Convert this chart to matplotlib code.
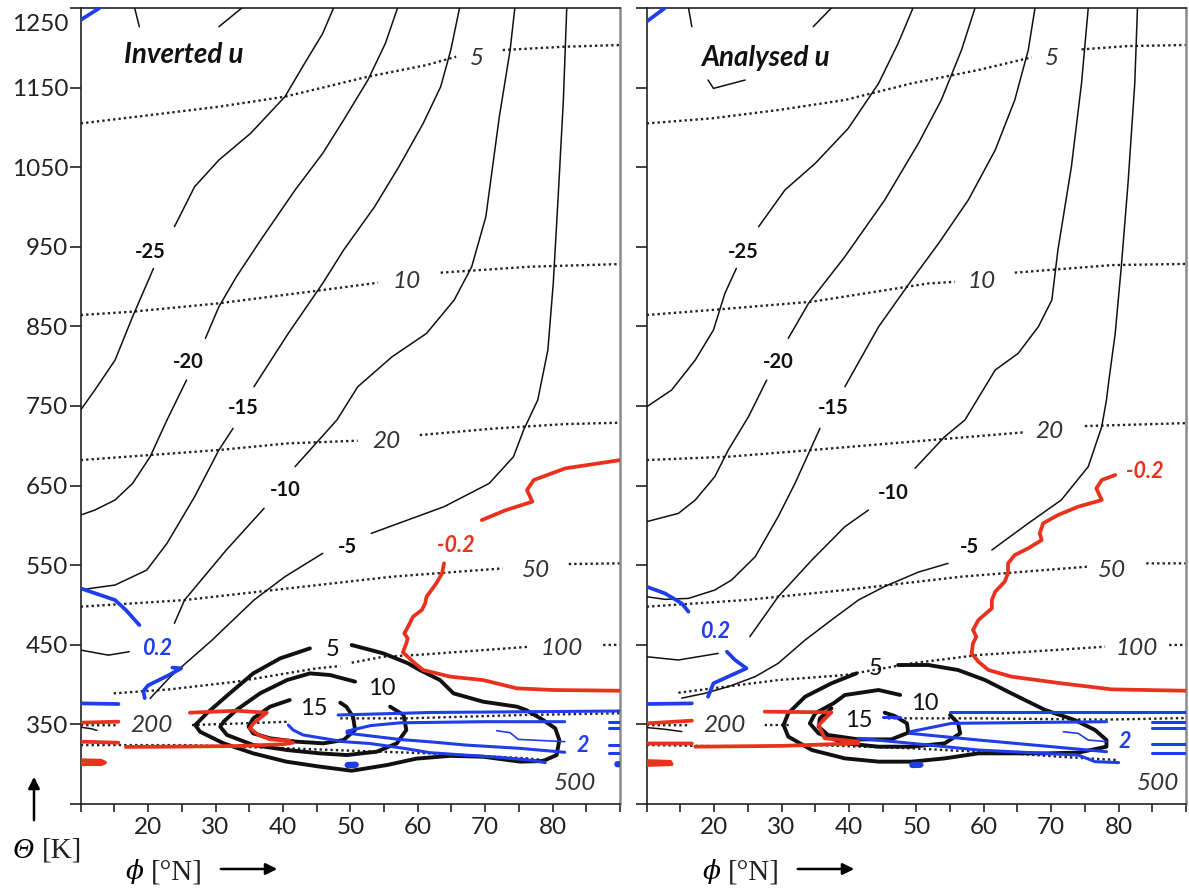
import numpy as np
import matplotlib
matplotlib.use('Agg')
import matplotlib.pyplot as plt

plt.rcParams['font.family'] = ['Lato', 'DejaVu Sans']

RED = '#e8321e'
BLUE = '#1f3de8'
GAP = (np.nan, np.nan)

# all curves are (latitude [deg N], theta [K])

# ---------------- left panel: inverted u ----------------
inv_u_m30 = [(18.0, 1250), (18.7, 1226.5), GAP, (30.5, 1226.5), (33.9, 1250)]
inv_u_m25 = [(47.5, 1250), (45.9, 1218), (42.9, 1176), (40.3, 1138.6), (35.2, 1092.5), (30.5, 1059),
             (26.9, 1025.5), (23.9, 975.2), GAP, (20.8, 922.9), (17.7, 862.2), (15.1, 807.7),
             (12.1, 770.1), (10, 745)]
inv_u_m20 = [(57.0, 1250), (55.2, 1205.6), (52.6, 1159.5), (49.0, 1109.2), (45.9, 1067.4), (41.8, 1021.3),
             (36.7, 958.5), (33.1, 912.4), (30.5, 874.7), (28.5, 835), GAP, (25.7, 782.6), (22.8, 732.4),
             (20.3, 686.3), (17.7, 652.8), (15.1, 631.9), (12.1, 619.3), (10, 613)]
inv_u_m15 = [(66.2, 1250), (64.9, 1197.2), (63.4, 1151.1), (60.8, 1105), (57.2, 1050.6), (53.6, 1000.4),
             (49.0, 945.9), (45.9, 904.1), (40.8, 841.3), (35.7, 774.2), GAP, (32.6, 721.9), (30.5, 694.7),
             (26.9, 636.1), (22.8, 577.4), (19.8, 543.9), (15.1, 525.1), (11.5, 520.9), (10, 518.8)]
inv_u_m10 = [(74.4, 1250), (73.7, 1197.2), (72.1, 1113.4), (70.1, 987.8), (68.0, 924.9), (65.4, 883.1),
             (61.3, 841.2), (56.2, 811.9), (51.1, 774.2), (48.0, 732.4), (41.8, 673.8), GAP, (37.2, 621.4),
             (31.6, 569.1), (25.4, 506.2), (23.9, 477), GAP, (17.2, 441.3), (14.1, 437), (10, 443.4)]
inv_u_m5 = [(82.1, 1250), (81.6, 1134.4), (80.8, 1008.7), (80.1, 904), (79.3, 820.3), (77.8, 757.5),
            (75.7, 719.8), (74.2, 686.3), (70.6, 652.8), (63.9, 623.5), (53.1, 590), GAP, (45.9, 564.9),
            (40.3, 535.6), (35.7, 506.2), (29.5, 456), (23.3, 409.9), (20.3, 382.7)]
inv_u_misc = [(10, 346.5), (11.6, 344.5), (12.4, 342.5)]
inv_u_5 = [(44.0, 445.5), (39.6, 433), (35.6, 414.1), (32.1, 389), (28.7, 363.9), (27.0, 349.2),
           (27.7, 340.8), (31.2, 326.2), (35.6, 313.6), (40.5, 303.2), (45.5, 296.9), (50.2, 291.8),
           (55.4, 298.9), (59.8, 307), (64.8, 310.5), (69.7, 309.4), (75.2, 303.2), (78.6, 304),
           (80.6, 311.5), (81.0, 330.4), (80.4, 345), (78.6, 355.5), (76.1, 368), (74.7, 372.3),
           (69.7, 378.5), (65.3, 389), (63.3, 405.7), (60.3, 418.3), (58.5, 427), (54.9, 439.2), (50.2, 449.7)]
inv_u_10 = [(50.7, 403.7), (47.0, 412), (44.0, 414.1), (40.6, 405.7), (36.6, 389), (33.1, 368.1),
            (31.2, 353.4), (30.7, 347.1), (31.7, 336.7), (35.6, 324.1), (40.6, 317.8), (45.5, 313.6),
            (49.5, 311.5), (53.9, 315.7), (56.9, 326.2), (58.3, 343), (57.9, 361.8), (55.9, 372.3)]
inv_u_15 = [(41.0, 380.6), (38.1, 372.3), (35.6, 357.6), (34.9, 347.1), (35.6, 338.7), (38.1, 332.5),
            (42.0, 328.3), (46.0, 326.2), (49.0, 330.4), (50.7, 343), (50.4, 359.7), (49.4, 372.3), (48.5, 377.3)]

inv_p5 = [(10, 1105), (20.3, 1115.5), (30.5, 1126), (40.3, 1138.6), (52.6, 1163.7), (61.3, 1178.3),
          (65.7, 1188.8), GAP, (72.6, 1197.2), (81.9, 1201.4), (90, 1203.5)]
inv_p10 = [(10, 864.3), (17.7, 868.5), (30.5, 879), (45.9, 895.7), (54.1, 904.9), GAP, (63.4, 917.5),
           (76.7, 925), (90, 928.3)]
inv_p20 = [(10, 682.1), (20.3, 688.4), (30.5, 694.7), (40.8, 703.1), (51.1, 706.4), GAP, (60.3, 713.5),
           (71.6, 721.9), (81.9, 727.3), (90, 729)]
inv_p50 = [(10, 497.9), (25.4, 506.2), (40.8, 520.9), (56.2, 535.6), (72.6, 546), GAP, (82.4, 551.5), (90, 552.3)]
inv_p100 = [(14.9, 389), (23.2, 394), (33.1, 403.7), (45.0, 420.4), (48.5, 423.3), GAP, (50.2, 427.5),
            (54.9, 435), (59.8, 437.2), (76.6, 447.6), GAP, (87.5, 449.7), (90, 450)]
inv_p200 = [(10, 349), (15.5, 349), GAP, (26.5, 349.2), (33, 351), (41.0, 353.4), GAP, (48.5, 357.6),
            (58.4, 357.6), (75.6, 361.8), (90, 364)]
inv_p300 = [(10, 324), (26, 324), (40.6, 320), (50, 317), (61.8, 313.6), (70, 310), (76, 307.5), (79, 305)]

inv_red_top = [(90, 682), (81.9, 671.7), (77.2, 657), (76.2, 644.4), (77.0, 629.8), (73.1, 619.3), (69.5, 606.7)]
inv_red_mid = [(63.9, 552.3), (63.6, 539.7), (62.9, 529.3), (62.4, 523), (61.3, 510.4), (61.1, 502.1),
               (60.6, 493.7), (59.3, 485.3), (58.8, 476.9), (58.3, 468.6), (58.0, 464.4), (58.5, 458.1),
               (58.3, 451.8), (57.8, 440.5), (59.3, 428.8), (60.8, 418.3), (64.8, 410), (69.7, 405.7),
               (74.7, 395.3), (80.1, 393.2), (90, 392.3)]
inv_red_chev = [(26.2, 364.7), (33.1, 367.2), (37.6, 364.7), (35.6, 351.3), (35.1, 345), (36.4, 336.7),
                (38.1, 331.2), (41.0, 329.5)]
inv_red_long = [(16.7, 321.7), (23.2, 322), (33, 322.8), (40, 325), (41.5, 327)]
inv_red_short = [(10, 352.2), (15.6, 353.4), GAP, (10, 328.3), (15.6, 327)]
inv_red_blob = [(10, 305), (13, 304.5), (13.6, 302), (13, 300), (10, 300)]

inv_blue_corner = [(10, 1235), (12.8, 1250)]
inv_blue_ul = [(10, 520.9), (15.1, 506.2), (16.7, 493.7), (18.7, 474.8)]
inv_blue_hook = [(19.5, 383), (19.3, 392), (20.0, 399), (23.1, 412), (24.9, 420.4), (23.6, 421.3)]
inv_blue_stub = [(10, 376.4), (15.6, 375.6)]
inv_blue_a = [(48.2, 361.8), (62, 365), (90, 366.8)]
inv_blue_b = [(49.5, 341.5), (53, 348.5), (57.4, 352), (70, 353.4), (81.8, 353.4)]
inv_blue_c = [(49.5, 339), (53, 335.5), (57.4, 331), (62, 328), (67.2, 324), (75, 320), (81.8, 315)]
inv_blue_d = [(40.8, 349.2), (41.5, 343), (43, 336.7), (46, 332.5), (49, 328.3), (52.9, 326),
              (57.9, 320), (61.8, 314.5), (66, 312), (72.2, 308.6), (76.6, 305.2), (78.9, 302)]
inv_blue_thin = [(71.7, 342.1), (73.7, 339.6), (74.9, 331.2), (81.8, 328.3)]
inv_blue_stubs = [(88.3, 353.4), (90, 353.4), GAP, (88.3, 345), (90, 345), GAP, (88.3, 324.1), (90, 324.1),
                  GAP, (88.3, 313.6), (90, 313.6)]
inv_blue_dots = [(49.6, 299), (50.8, 299.3), GAP, (89.6, 300), (90, 300)]

inv_u_labels = [('-25', 20.3, 943.8), ('-20', 25.9, 805.7), ('-15', 34.1, 747), ('-10', 40.3, 644.4), ('-5', 49.5, 573.3)]
inv_u_thick_labels = [('5', 47.3, 444.3), ('10', 54.6, 395.3), ('15', 44.6, 370.2)]
inv_p_labels = [('5', 68.8, 1186.7), ('10', 58.3, 906.2), ('20', 55.4, 705.2), ('50', 77.5, 543.9),
                ('100', 81.4, 445.5), ('200', 20.5, 349.2), ('500', 83.4, 275.9)]
inv_red_labels = [('-0.2', 65.7, 575.3)]
inv_blue_labels = [('0.2', 21.4, 445.5), ('2', 84.5, 324.1)]

# ---------------- right panel: analysed u ----------------
ana_u_m30 = [(16.2, 1250), (16.7, 1226.5), GAP, (34.7, 1226.5), (37.4, 1250), GAP,
             (19.1, 1159.5), (19.9, 1149), (24.6, 1159.5)]
ana_u_m25 = [(49.5, 1250), (47.3, 1205.6), (44.4, 1155.3), (39.9, 1098.8), (35.0, 1054.8), (30.5, 1021.3),
             (26.6, 975.2), GAP, (23.3, 922.9), (21.6, 891.5), (19.9, 845.4), (17.2, 807.7), (13.7, 770.1), (10, 749)]
ana_u_m20 = [(58.7, 1250), (56.7, 1197.2), (53.7, 1134.4), (50.3, 1079.9), (45.3, 1008.7), (39.4, 937.6),
             (34.0, 878.9), (31.0, 835), GAP, (27.8, 782.6), (25.1, 736.6), (22.1, 694.7), (20.1, 661.2),
             (17.2, 631.9), (14.7, 615.1), (10, 604.7)]
ana_u_m15 = [(67.6, 1250), (66.6, 1197.2), (64.6, 1134.4), (61.7, 1071.6), (57.7, 1008.7), (53.3, 954.3),
             (49.3, 908.2), (44.4, 849.6), (39.4, 774.2), GAP, (35.7, 721.9), (32.0, 652.8), (29.5, 611),
             (26.1, 560.7), (22.6, 531.4), (20.1, 518.8), (16.2, 508.3), (12.7, 507.1), (10, 510.4)]
ana_u_m10 = [(75.5, 1250), (74.5, 1155.3), (73.0, 1050.6), (71.0, 945.9), (70.1, 883.1), (68.1, 849.6),
             (65.1, 816.1), (61.7, 795.2), (57.2, 732.4), (54.2, 711.4), (49.8, 671.7), GAP, (42.9, 619.3),
             (39.4, 598.4), (34.5, 556.5), (29.5, 510.4), (25.3, 460.2), GAP, (10, 435), (14.7, 430.9), (20.6, 439.2)]
ana_u_m5 = [(82.8, 1250), (82.4, 1155.3), (81.4, 1029.7), (80.4, 925), (79.5, 841.2), (78.5, 778.4),
            (78.2, 757.5), (77.5, 724), (75.5, 673.8), (71.5, 631.9), (66.6, 602.6), (61.2, 569.1), GAP,
            (54.7, 552.3), (50.3, 541.3), (45.3, 523.3), (41.4, 506.2), (37.4, 481.1), (33.5, 456),
            (29.5, 426.7), (26.1, 410), (22.1, 397.4), (18.6, 389), (15.2, 383)]
ana_u_misc = [(10, 346), (12.6, 344), (15.2, 341)]
ana_u_5 = [(41.1, 414.1), (37.4, 401.6), (33.5, 384.8), (31.0, 363.9), (30.3, 349.2), (31.0, 334.6),
           (34.5, 317.8), (39.4, 307.3), (44.4, 303.2), (49.3, 303.2), (54.2, 307.3), (59.2, 313.6),
           (64.1, 313.6), (69.1, 313.6), (74.0, 314.5), (78.2, 322), (78.2, 330.4), (76.5, 343),
           (73.5, 355.5), (69.1, 368.1), (64.1, 389), (60.2, 405.7), (56.2, 418.3), (51.8, 424.6), (47.3, 424.6)]
ana_u_10 = [(47.6, 387), (44.4, 393.2), (39.4, 386.9), (37.7, 376.4), (35.0, 363.9), (34.2, 351.3),
            (35.5, 338.7), (39.4, 326.2), (44.4, 322), (49.3, 322), (54.2, 326.2), (56.5, 338.7),
            (56.2, 351.3), (55.0, 361.8)]
ana_u_15 = [(37.4, 370.2), (35.7, 357.6), (35.5, 347.1), (36.9, 336.7), (41.4, 331.2), (46.3, 331.2),
            (48.8, 339.6), (48.6, 351.3), (46.8, 360.5), (45.3, 364.7)]

ana_p5 = [(10, 1105), (19.6, 1111.3), (29.5, 1121.8), (39.4, 1134.4), (49.3, 1155.3), (59.2, 1172.1),
          (67.1, 1188), GAP, (74.5, 1198), (81.4, 1202.2), (90, 1203.5)]
ana_p10 = [(10, 864.3), (19.6, 870.6), (34.5, 881), (51.8, 904), (55.7, 906), GAP, (64.6, 917.5),
           (79.0, 927), (90, 928.5)]
ana_p20 = [(10, 682.1), (22.1, 686.3), (34.5, 694.7), (49.3, 705.2), (65.9, 716.9), GAP, (75, 724.8), (90, 728.5)]
ana_p50 = [(10, 497.9), (24.6, 506.2), (39.4, 518.8), (56.7, 535.6), (75.3, 548.1), GAP, (84.1, 552.3), (90, 552.3)]
ana_p100 = [(14.7, 389.8), (29.5, 405.7), (39.4, 412), (49.3, 426.7), (59.2, 437.2), (78.0, 447.6), GAP,
            (87.5, 449.7), (90, 450)]
ana_p200 = [(10, 349), (16, 349), GAP, (27.5, 349.2), (31.5, 349.2), GAP, (45.8, 357.6), (59.2, 357.6),
            (78, 356), (90, 358)]
ana_p300 = [(10, 324.1), (24.6, 322), (34.5, 324.1), (42, 322), (49.3, 319.9), (56, 317), (64.1, 313.6),
            (72, 309), (79.9, 305.2)]

ana_red_top = [(79.5, 663.3), (77.5, 657), (76.7, 646.5), (77.5, 631.9), (74.0, 623.5), (71.0, 613),
               (68.8, 602.6), (68.3, 590), (68.6, 581.6), (66.6, 571.2), (64.6, 562.8), (63.6, 552.3),
               (63.6, 539.7), (63.1, 529.3), (61.7, 516.7), (61.2, 506.2), (61.2, 495.8), (59.2, 481.1),
               (58.4, 468.6), (58.9, 460.2), (58.4, 451.8), (58.2, 439.2), (59.2, 428.8), (60.7, 418.3),
               (64.1, 410), (71.5, 401.6), (79.0, 394), (90, 392.3)]
ana_red_chev = [(27.5, 366), (37.4, 365.1), (35.5, 349.2), (36.4, 332.5), (41.4, 328.3)]
ana_red_long = [(17.2, 322), (30, 323), (41.4, 326.2)]
ana_red_short = [(10, 351.3), (16.7, 354.7), GAP, (10, 326), (16.7, 326)]
ana_red_blob = [(10, 304), (13.5, 303), (13.7, 300), (10, 299)]

ana_blue_corner = [(10, 1233), (12.7, 1250)]
ana_blue_ul = [(10, 523), (12.7, 514.6), (15.2, 502), (16.2, 491.6)]
ana_blue_hook = [(19.1, 384.8), (19.9, 401.6), (24.8, 420.4), (23.1, 430.9), (21.9, 441.3)]
ana_blue_stub = [(10, 375.6), (16.7, 376.4)]
ana_blue_a = [(55.0, 366), (90, 366), GAP, (45.1, 359.7), (47.6, 359.7)]
ana_blue_b = [(49.1, 340.8), (55.2, 351.3), (78.2, 353.4)]
ana_blue_c = [(49.1, 338.7), (59.2, 330.4), (78.2, 315.7)]
ana_blue_d = [(41.4, 332.5), (49.3, 326.2), (59.2, 317.8), (74.0, 311.5), (76.5, 303.2), (80, 302)]
ana_blue_thin = [(71.8, 340.8), (74.0, 338.7), (75.5, 330.4), (78.2, 328.3)]
ana_blue_stubs = [(85, 353.4), (90, 353.4), GAP, (85, 345), (90, 345), GAP, (85, 326), (90, 326),
                  GAP, (85, 313.6), (90, 313.6)]
ana_blue_dots = [(49.4, 299), (50.6, 299.3)]

ana_u_labels = [('-25', 24.3, 943.8), ('-20', 29.5, 805.7), ('-15', 37.7, 747), ('-10', 46.6, 640.2), ('-5', 57.9, 573.3)]
ana_u_thick_labels = [('5', 43.9, 420.4), ('10', 51.3, 376.4), ('15', 41.4, 355.5)]
ana_p_labels = [('5', 70.1, 1186.7), ('10', 59.7, 906.2), ('20', 69.8, 717.7), ('50', 79.0, 543.9),
                ('100', 82.7, 445.5), ('200', 21.6, 349.2), ('500', 85.8, 275.9)]
ana_red_labels = [('-0.2', 83.9, 667.5)]
ana_blue_labels = [('0.2', 20.1, 466.5), ('2', 80.9, 328.3)]

y_ticks = [250, 350, 450, 550, 650, 750, 850, 950, 1050, 1150, 1250]
x_ticks = [10, 15, 20, 25, 30, 35, 40, 45, 50, 55, 60, 65, 70, 75, 80, 85, 90]
x_ticklabels = ['', '', '20', '', '30', '', '40', '', '50', '', '60', '', '70', '', '80', '', '']


def plot_lines(ax, lines, **style):
    for pts in lines:
        arr = np.array(pts, dtype=float)
        ax.plot(arr[:, 0], arr[:, 1], solid_capstyle='round', solid_joinstyle='round', **style)


def put_labels(ax, labels, **style):
    for txt, lat, theta in labels:
        ax.text(lat, theta, txt, ha='center', va='center', zorder=10, **style)


def style_axes(ax, with_labels):
    ax.set_xlim(10, 90)
    ax.set_ylim(250, 1250)
    ax.set_xticks(x_ticks)
    ax.set_xticklabels(x_ticklabels)
    ax.set_yticks(y_ticks)
    if with_labels:
        # 1250 sits on the top edge, its label is put lower by hand
        ax.set_yticklabels([''] + [str(v) for v in y_ticks[1:-1]] + [''])
        ax.annotate(str(y_ticks[-1]), xy=(0, y_ticks[-1]), xycoords=('axes fraction', 'data'),
                    xytext=(-9, -12), textcoords='offset points', ha='right', va='center',
                    fontsize=17.5, color='#222', annotation_clip=False)
    else:
        ax.set_yticklabels([])
    ax.tick_params(axis='y', direction='out', length=8, width=1.2, pad=1, labelsize=17.5,
                   labelcolor='#222', color='#222')
    ax.tick_params(axis='x', direction='out', length=6, width=1.2, pad=3, labelsize=17.5,
                   labelcolor='#222', color='#222')
    for side in ['left', 'bottom', 'top']:
        ax.spines[side].set_color('#222')
        ax.spines[side].set_linewidth(1.2)
    ax.spines['right'].set_color('#8c8c8c')
    ax.spines['right'].set_linewidth(1.8)


def draw_panel(ax, d, title, title_pos):
    thin = dict(color='#111', lw=1.1, zorder=3)
    thick = dict(color='#111', lw=2.8, zorder=4)
    dots = dict(color='#222', lw=1.7, linestyle=(0, (1, 1.3)), zorder=2)

    plot_lines(ax, d['p'], **dots)
    plot_lines(ax, d['u_thin'], **thin)
    plot_lines(ax, d['u_thick'], **thick)
    plot_lines(ax, d['red'], color=RED, lw=2.7, zorder=5)
    plot_lines(ax, d['blue'], color=BLUE, lw=2.7, zorder=6)
    plot_lines(ax, d['blue_jet'], color=BLUE, lw=2.2, zorder=6)
    plot_lines(ax, d['blue_thin'], color=BLUE, lw=1.2, zorder=6)
    plot_lines(ax, d['blue_dots'], color=BLUE, lw=4.5, zorder=6)

    put_labels(ax, d['u_labels'], fontsize=14.5, fontweight='bold', color='#111')
    put_labels(ax, d['u_thick_labels'], fontsize=17, color='#111')
    put_labels(ax, d['p_labels'], fontsize=17.5, fontstyle='italic', color='#333')
    put_labels(ax, d['red_labels'], fontsize=15.5, fontweight='bold', fontstyle='italic', color=RED)
    put_labels(ax, d['blue_labels'], fontsize=15.5, fontweight='bold', fontstyle='italic', color=BLUE)

    ax.text(title_pos[0], title_pos[1], title, ha='center', va='center', fontsize=20,
            fontweight='bold', fontstyle='italic', color='#111', zorder=10)


def Main():
    W, H = 1189, 890
    fig = plt.figure(figsize=(W / 100, H / 100), dpi=100)
    ax1 = fig.add_axes([80.7 / W, 86 / H, 539.3 / W, 796 / H])
    ax2 = fig.add_axes([646.7 / W, 86 / H, 539.3 / W, 796 / H])

    inv = {
        'p': [inv_p5, inv_p10, inv_p20, inv_p50, inv_p100, inv_p200, inv_p300],
        'u_thin': [inv_u_m30, inv_u_m25, inv_u_m20, inv_u_m15, inv_u_m10, inv_u_m5, inv_u_misc],
        'u_thick': [inv_u_5, inv_u_10, inv_u_15],
        'red': [inv_red_top, inv_red_mid, inv_red_chev, inv_red_long, inv_red_short, inv_red_blob],
        'blue': [inv_blue_corner, inv_blue_ul, inv_blue_hook, inv_blue_stub],
        'blue_jet': [inv_blue_a, inv_blue_b, inv_blue_c, inv_blue_d, inv_blue_stubs],
        'blue_thin': [inv_blue_thin],
        'blue_dots': [inv_blue_dots],
        'u_labels': inv_u_labels, 'u_thick_labels': inv_u_thick_labels, 'p_labels': inv_p_labels,
        'red_labels': inv_red_labels, 'blue_labels': inv_blue_labels,
    }
    ana = {
        'p': [ana_p5, ana_p10, ana_p20, ana_p50, ana_p100, ana_p200, ana_p300],
        'u_thin': [ana_u_m30, ana_u_m25, ana_u_m20, ana_u_m15, ana_u_m10, ana_u_m5, ana_u_misc],
        'u_thick': [ana_u_5, ana_u_10, ana_u_15],
        'red': [ana_red_top, ana_red_chev, ana_red_long, ana_red_short, ana_red_blob],
        'blue': [ana_blue_corner, ana_blue_ul, ana_blue_hook, ana_blue_stub],
        'blue_jet': [ana_blue_a, ana_blue_b, ana_blue_c, ana_blue_d, ana_blue_stubs],
        'blue_thin': [ana_blue_thin],
        'blue_dots': [ana_blue_dots],
        'u_labels': ana_u_labels, 'u_thick_labels': ana_u_thick_labels, 'p_labels': ana_p_labels,
        'red_labels': ana_red_labels, 'blue_labels': ana_blue_labels,
    }

    draw_panel(ax1, inv, 'Inverted u', (25.3, 1191))
    draw_panel(ax2, ana, 'Analysed u', (27.6, 1187))
    style_axes(ax1, True)
    style_axes(ax2, False)

    # axis names with arrows, placed in figure pixels
    serif = ['Liberation Serif', 'DejaVu Serif']
    arrow = dict(arrowstyle='-|>', color='black', lw=1.8, mutation_scale=17)
    fig.text(13 / W, 1 - 851 / H, '\u0398', family=serif, fontstyle='italic', fontsize=21, va='center')
    fig.text(42 / W, 1 - 851 / H, '[K]', family=serif, fontsize=21, va='center', color='#222')
    ax1.annotate('', xy=(34 / W, 1 - 774 / H), xytext=(34 / W, 1 - 823 / H), xycoords='figure fraction',
                 arrowprops=arrow, annotation_clip=False)
    for x0 in [126, 703]:
        fig.text(x0 / W, 1 - 872 / H, '\u03d5', family=['DejaVu Serif'], fontstyle='italic', fontsize=19, va='center')
        fig.text((x0 + 25) / W, 1 - 872 / H, '[\u00b0N]', family=serif, fontsize=21, va='center', color='#222')
        ax1.annotate('', xy=((x0 + 154) / W, 1 - 869 / H), xytext=((x0 + 92) / W, 1 - 869 / H),
                     xycoords='figure fraction', arrowprops=arrow, annotation_clip=False)

    fig.savefig('out.png', dpi=100)


if __name__ == "__main__":
    Main()
